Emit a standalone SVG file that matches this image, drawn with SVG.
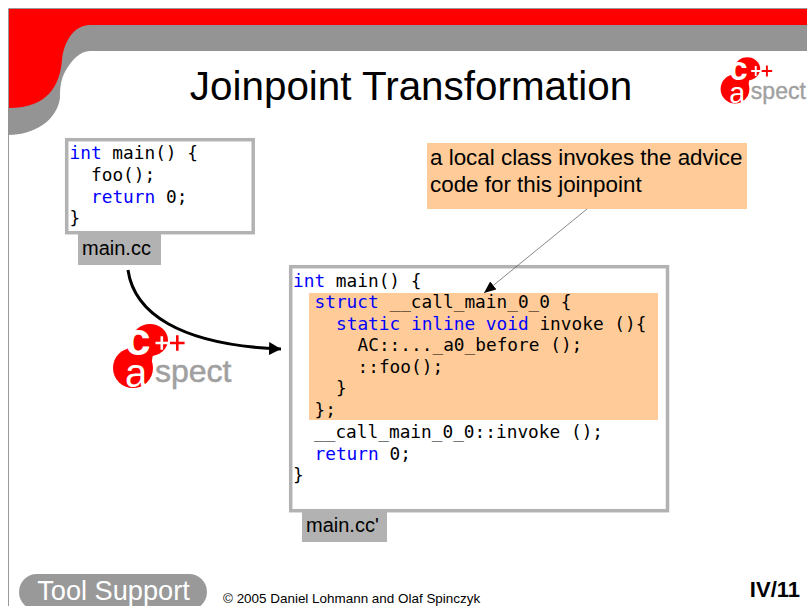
<svg xmlns="http://www.w3.org/2000/svg" width="807" height="606" viewBox="0 0 807 606">
<style>
.code{font-family:"DejaVu Sans Mono","Liberation Mono",monospace;font-size:17.8px;fill:#000;white-space:pre}
.kw{fill:#0000ff}
.sans{font-family:"Liberation Sans",Arial,sans-serif}
.box{fill:#fff;stroke:#b2b2b2;stroke-width:3.5}
.label{fill:#b2b2b2}
.lab{font-family:"Liberation Sans",Arial,sans-serif;font-size:20px;fill:#000}
.hl{fill:#ffcc99}
</style>
<defs>
<marker id="big" markerUnits="userSpaceOnUse" markerWidth="14" markerHeight="14" refX="12" refY="6.5" orient="auto"><path d="M0,0L12,6.5L0,13Z" fill="#000"/></marker>
<marker id="small" markerUnits="userSpaceOnUse" markerWidth="14" markerHeight="12" refX="12" refY="5" orient="auto"><path d="M0,0L12,5L0,10Z" fill="#000"/></marker>
<g id="logo">
<circle cx="0" cy="0" r="20" fill="#f00"/>
<ellipse cx="17" cy="-28" rx="18" ry="16" fill="#f00"/>
<path d="M-6,-19L2,-28L20,-14L18,-2Z" fill="#f00"/>
<text x="-8" y="19" class="sans" font-size="40" fill="#fff">a</text>
<text x="-8" y="-13" class="sans" font-size="46" font-weight="bold" fill="#fff">c</text>
<path d="M22.500,-26.300h5v-5.500h2.600v5.500h5v2.600h-5v5.500h-2.600v-5.500h-5Z" fill="#fff"/>
<path d="M37,-26.300h6v-6.500h2.600v6.500h6v2.600h-6v6.500h-2.600v-6.500h-6Z" fill="#f00"/>
<text x="22" y="14" class="sans" font-size="32" fill="#a0a0a0" stroke="#a0a0a0" stroke-width=".5">spect</text>
</g>
</defs>
<rect width="807" height="606" fill="#fff"/>
<g id="slide-frame">
<path d="M8.500,606V8.500H807" fill="none" stroke="#999" stroke-width="1"/>
<path d="M8,108V135C35,135 57,120 60,98C60,90 60,80 66,70C72,60 80,51 90,51H807V20H60Z" fill="#949494"/>
<path d="M9,9H807V25H90C75,25 64,40 62,60C60,85 48,108 9,108Z" fill="#f00"/>
</g>
<text id="title" x="411" y="100" text-anchor="middle" class="sans" font-size="40.400" fill="#000">Joinpoint Transformation</text>
<use id="logo-top" href="#logo" transform="translate(735,89) scale(.72)"/>
<use id="logo-mid" href="#logo" transform="translate(133,368)"/>
<g id="source-box">
<rect class="box" x="66.700" y="139.700" width="186.500" height="93"/>
<text class="code" x="69.500" y="159"><tspan class="kw">int</tspan> main() {</text>
<text class="code" x="91" y="181">foo();</text>
<text class="code" x="91" y="203"><tspan class="kw">return</tspan> 0;</text>
<text class="code" x="69.500" y="224">}</text>
</g>
<g id="source-label">
<rect class="label" x="78" y="233" width="83" height="32"/>
<text class="lab" x="82" y="255">main.cc</text>
</g>
<g id="callout">
<rect class="hl" x="427" y="143" width="320" height="66"/>
<text class="sans" font-size="22.400" x="430" y="165">a local class invokes the advice</text>
<text class="sans" font-size="22.400" x="430" y="192">code for this joinpoint</text>
</g>
<g id="result-box">
<rect class="box" x="290.700" y="266.700" width="376.800" height="244"/>
<rect class="hl" x="309" y="293" width="349" height="127"/>
<text class="code" x="293" y="287"><tspan class="kw">int</tspan> main() {</text>
<text class="code" x="314.500" y="308"><tspan class="kw">struct</tspan> __call_main_0_0 {</text>
<text class="code" x="336" y="330"><tspan class="kw">static inline void</tspan> invoke (){</text>
<text class="code" x="357.500" y="351">AC::..._a0_before ();</text>
<text class="code" x="357.500" y="373">::foo();</text>
<text class="code" x="336" y="394">}</text>
<text class="code" x="314.500" y="416">};</text>
<text class="code" x="314" y="438">__call_main_0_0::invoke ();</text>
<text class="code" x="314.500" y="460"><tspan class="kw">return</tspan> 0;</text>
<text class="code" x="293" y="481">}</text>
</g>
<g id="result-label">
<rect class="label" x="302" y="512" width="85" height="30"/>
<text class="lab" x="306" y="532">main.cc'</text>
</g>
<g id="connectors">
<path d="M128,270C134,312 178,345 281,349" fill="none" stroke="#000" stroke-width="3" marker-end="url(#big)"/>
<path d="M587,209L484,293" fill="none" stroke="#555" stroke-width=".7" marker-end="url(#small)"/>
</g>
<g id="footer">
<rect x="19" y="574" width="188" height="36" rx="18" fill="#999"/>
<text x="113.500" y="600" text-anchor="middle" class="sans" font-size="27.200" fill="#fff">Tool Support</text>
<text x="223" y="603" class="sans" font-size="13.450" fill="#000">© 2005 Daniel Lohmann and Olaf Spinczyk</text>
<text x="800" y="597" text-anchor="end" class="sans" font-size="22" font-weight="bold" fill="#000">IV/11</text>
</g>
</svg>
